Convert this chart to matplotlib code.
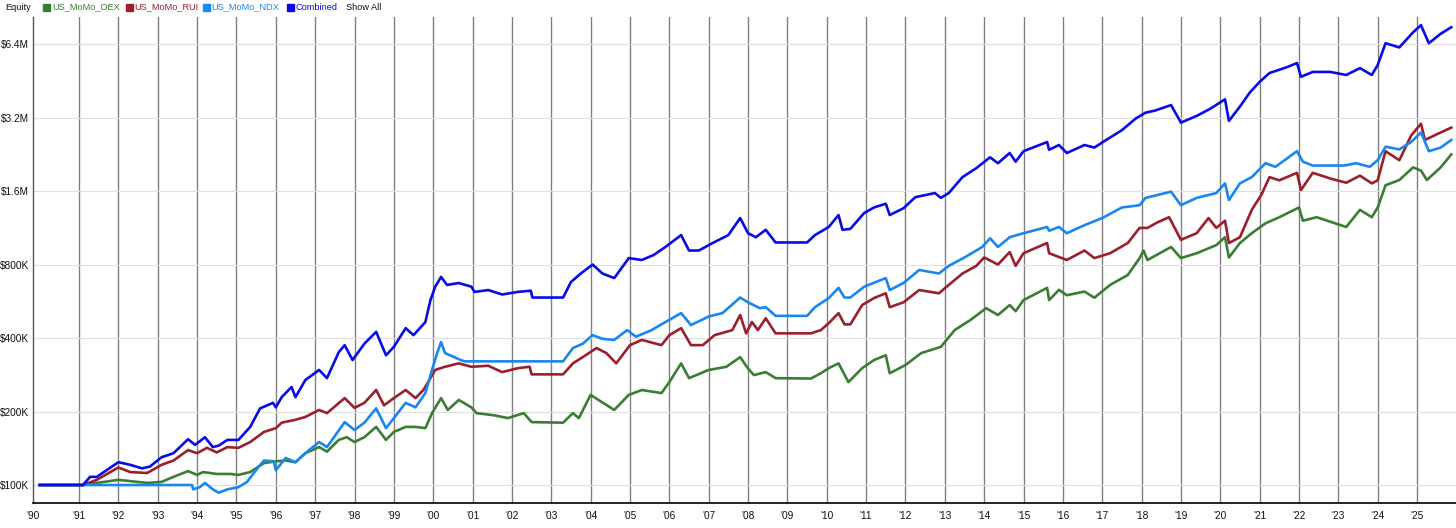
"""
Equity curves for the US momentum systems (OEX / RUI / NDX) and the combined book.
Log scale, values read off the reference chart.
"""

import matplotlib
matplotlib.use('Agg')
import matplotlib.pyplot as plt
from matplotlib.patches import Rectangle

plt.rcParams['font.family'] = ['Liberation Sans', 'DejaVu Sans']

# ---- data (equity in $K, x in fractional years) ----
comb_t = [1990.0, 1991.1, 1991.28, 1991.45, 1991.7, 1992.0, 1992.3, 1992.6, 1992.8, 1993.1,
          1993.4, 1993.77, 1993.95, 1994.2, 1994.4, 1994.55, 1994.77, 1995.05, 1995.35, 1995.6,
          1995.93, 1996.0, 1996.15, 1996.4, 1996.5, 1996.75, 1997.1, 1997.3, 1997.6, 1997.75,
          1997.95, 1998.25, 1998.55, 1998.8, 1999.0, 1999.3, 1999.5, 1999.8, 1999.93, 2000.05,
          2000.2, 2000.35, 2000.65, 2000.97, 2001.05, 2001.4, 2001.75, 2002.15, 2002.48, 2002.52,
          2003.3, 2003.5, 2003.75, 2004.05, 2004.3, 2004.6, 2004.97, 2005.3, 2005.6, 2005.9,
          2006.3, 2006.5, 2006.75, 2007.1, 2007.5, 2007.8, 2008.0, 2008.2, 2008.45, 2008.7,
          2009.5, 2009.7, 2010.05, 2010.3, 2010.4, 2010.6, 2010.95, 2011.2, 2011.5, 2011.6,
          2011.95, 2012.25, 2012.75, 2012.9, 2013.1, 2013.45, 2013.8, 2014.15, 2014.35, 2014.65,
          2014.8, 2015.0, 2015.6, 2015.65, 2015.9, 2016.1, 2016.55, 2016.8, 2017.1, 2017.5,
          2017.85, 2018.1, 2018.35, 2018.75, 2019.0, 2019.4, 2019.75, 2020.12, 2020.22, 2020.5,
          2020.75, 2021.0, 2021.25, 2021.7, 2021.95, 2022.05, 2022.35, 2022.8, 2023.2, 2023.55,
          2023.85, 2024.0, 2024.2, 2024.55, 2024.9, 2025.1, 2025.3, 2025.6, 2025.87]
comb_v = [100, 100, 108, 108, 115, 124, 121, 117, 119, 130,
          135, 154, 146, 157, 143, 145, 153, 153, 173, 206,
          217, 208, 229, 252, 229, 269, 296, 274, 350, 374,
          325, 379, 424, 340, 368, 439, 411, 465, 572, 649,
          712, 660, 672, 649, 618, 629, 603, 618, 625, 586,
          586, 678, 735, 800, 735, 704, 850, 835, 875, 944,
          1056, 913, 913, 980, 1056, 1240, 1075, 1035, 1110, 985,
          985, 1056, 1140, 1276, 1110, 1120, 1300, 1370, 1420, 1276,
          1360, 1510, 1570, 1500, 1570, 1825, 1985, 2200, 2080, 2290,
          2110, 2330, 2540, 2360, 2470, 2290, 2470, 2410, 2590, 2840,
          3170, 3350, 3420, 3600, 3050, 3250, 3480, 3800, 3100, 3550,
          4050, 4480, 4870, 5150, 5350, 4700, 4920, 4920, 4780, 5100,
          4780, 5250, 6450, 6200, 7150, 7650, 6450, 7050, 7500]

rui_t = [1990.0, 1991.1, 1991.45, 1992.0, 1992.3, 1992.73, 1993.1, 1993.4, 1993.77, 1994.0,
         1994.25, 1994.5, 1994.77, 1995.05, 1995.35, 1995.7, 1996.0, 1996.15, 1996.5, 1996.75,
         1997.1, 1997.3, 1997.75, 1998.0, 1998.25, 1998.55, 1998.75, 1999.0, 1999.3, 1999.55,
         1999.75, 1999.9, 2000.05, 2000.3, 2000.65, 2000.97, 2001.4, 2001.75, 2002.15, 2002.45,
         2002.5, 2003.3, 2003.55, 2003.8, 2004.15, 2004.4, 2004.65, 2005.0, 2005.3, 2005.8,
         2006.0, 2006.3, 2006.55, 2006.85, 2007.15, 2007.6, 2007.8, 2007.95, 2008.1, 2008.25,
         2008.45, 2008.7, 2009.6, 2009.85, 2010.05, 2010.3, 2010.45, 2010.6, 2010.9, 2011.2,
         2011.5, 2011.6, 2011.95, 2012.35, 2012.85, 2013.1, 2013.45, 2013.8, 2014.0, 2014.35,
         2014.65, 2014.8, 2015.0, 2015.6, 2015.65, 2016.1, 2016.55, 2016.8, 2017.2, 2017.65,
         2017.95, 2018.15, 2018.4, 2018.7, 2019.0, 2019.4, 2019.7, 2019.9, 2020.12, 2020.22,
         2020.5, 2020.8, 2021.05, 2021.25, 2021.5, 2021.95, 2022.05, 2022.35, 2022.8, 2023.2,
         2023.55, 2023.85, 2024.0, 2024.2, 2024.55, 2024.85, 2025.1, 2025.2, 2025.6, 2025.87]
rui_v = [100, 100, 105, 118, 113, 112, 121, 126, 139, 135,
         142, 136, 143, 142, 150, 165, 171, 180, 185, 190,
         203, 197, 227, 207, 217, 245, 212, 227, 245, 227,
         245, 269, 296, 305, 315, 305, 308, 290, 301, 305,
         284, 284, 315, 334, 364, 347, 315, 374, 393, 374,
         411, 439, 374, 374, 411, 431, 497, 418, 465, 431,
         482, 418, 418, 431, 460, 506, 455, 455, 546, 583,
         610, 535, 560, 629, 610, 660, 735, 790, 855, 800,
         900, 790, 890, 980, 890, 835, 913, 850, 890, 980,
         1130, 1130, 1190, 1250, 1010, 1075, 1240, 1130, 1210, 980,
         1035, 1340, 1550, 1825, 1770, 1900, 1615, 1900, 1800, 1730,
         1850, 1720, 1770, 2330, 2140, 2700, 3020, 2590, 2780, 2910]

ndx_t = [1990.0, 1993.87, 1993.9, 1994.07, 1994.2, 1994.4, 1994.55, 1994.77, 1995.05, 1995.27,
         1995.55, 1995.7, 1995.95, 1996.0, 1996.25, 1996.5, 1996.75, 1997.1, 1997.3, 1997.75,
         1998.0, 1998.25, 1998.55, 1998.8, 1999.0, 1999.3, 1999.55, 1999.8, 1999.97, 2000.1,
         2000.2, 2000.3, 2000.7, 2000.8, 2003.3, 2003.55, 2003.8, 2004.05, 2004.3, 2004.6,
         2004.93, 2005.15, 2005.55, 2005.9, 2006.3, 2006.55, 2007.0, 2007.35, 2007.8, 2008.0,
         2008.3, 2008.45, 2008.7, 2009.5, 2009.7, 2010.05, 2010.3, 2010.45, 2010.6, 2010.95,
         2011.5, 2011.6, 2011.95, 2012.35, 2012.85, 2013.1, 2013.5, 2013.95, 2014.15, 2014.35,
         2014.65, 2015.0, 2015.6, 2015.65, 2015.9, 2016.1, 2016.55, 2017.0, 2017.5, 2017.95,
         2018.1, 2018.75, 2019.0, 2019.4, 2019.9, 2020.12, 2020.22, 2020.5, 2020.8, 2021.15,
         2021.4, 2021.95, 2022.1, 2022.35, 2023.15, 2023.45, 2023.8, 2024.0, 2024.2, 2024.55,
         2024.85, 2025.1, 2025.3, 2025.6, 2025.87]
ndx_v = [100, 100, 96, 98, 102, 96, 93, 96, 98, 103,
         118, 126, 125, 115, 129, 124, 135, 150, 143, 181,
         168, 180, 206, 171, 188, 217, 208, 238, 296, 347,
         385, 347, 325, 321, 321, 364, 379, 411, 397, 393,
         431, 405, 431, 465, 506, 452, 490, 506, 586, 560,
         530, 535, 493, 493, 535, 583, 642, 586, 586, 649,
         704, 629, 672, 760, 735, 790, 855, 944, 1025, 944,
         1035, 1075, 1140, 1100, 1140, 1075, 1160, 1240, 1370, 1400,
         1500, 1590, 1400, 1500, 1570, 1720, 1470, 1720, 1825, 2080,
         2010, 2330, 2110, 2035, 2035, 2080, 2010, 2140, 2430, 2370,
         2540, 2780, 2330, 2410, 2590]

oex_t = [1990.0, 1991.1, 1991.45, 1992.0, 1992.73, 1993.1, 1993.4, 1993.77, 1994.0, 1994.15,
         1994.5, 1994.85, 1995.05, 1995.35, 1995.7, 1996.0, 1996.25, 1996.5, 1996.75, 1997.1,
         1997.3, 1997.6, 1997.8, 1998.0, 1998.25, 1998.55, 1998.8, 1999.0, 1999.3, 1999.55,
         1999.8, 1999.97, 2000.2, 2000.37, 2000.65, 2000.97, 2001.1, 2001.55, 2001.9, 2002.3,
         2002.5, 2003.3, 2003.55, 2003.7, 2004.0, 2004.2, 2004.6, 2004.97, 2005.3, 2005.8,
         2006.0, 2006.3, 2006.5, 2007.0, 2007.45, 2007.8, 2008.0, 2008.15, 2008.45, 2008.7,
         2009.6, 2009.85, 2010.05, 2010.3, 2010.55, 2010.9, 2011.2, 2011.5, 2011.6, 2012.0,
         2012.4, 2012.9, 2013.25, 2013.65, 2014.05, 2014.35, 2014.65, 2014.8, 2015.0, 2015.6,
         2015.65, 2015.9, 2016.1, 2016.55, 2016.8, 2017.2, 2017.65, 2017.95, 2018.05, 2018.15,
         2018.75, 2019.0, 2019.4, 2019.9, 2020.12, 2020.22, 2020.5, 2020.8, 2021.15, 2021.5,
         2022.0, 2022.1, 2022.45, 2022.85, 2023.2, 2023.55, 2023.85, 2024.0, 2024.2, 2024.55,
         2024.9, 2025.1, 2025.25, 2025.6, 2025.87]
oex_v = [100, 100, 102, 105, 102, 103, 108, 114, 110, 113,
         111, 111, 110, 113, 123, 125, 126, 124, 135, 143,
         137, 153, 157, 150, 157, 173, 153, 165, 173, 173,
         171, 197, 227, 203, 223, 208, 197, 193, 188, 197,
         181, 180, 197, 188, 234, 223, 203, 234, 245, 238,
         264, 315, 274, 296, 305, 334, 300, 282, 290, 274,
         273, 287, 301, 315, 264, 301, 325, 340, 287, 310,
         347, 368, 431, 474, 530, 497, 546, 515, 572, 642,
         572, 630, 599, 620, 585, 660, 725, 850, 913, 835,
         944, 850, 890, 961, 1035, 855, 980, 1075, 1180, 1250,
         1370, 1210, 1250, 1190, 1140, 1340, 1250, 1370, 1690, 1775,
         2000, 1940, 1775, 2000, 2260]

series_names = ['US_MoMo_OEX', 'US_MoMo_RUI', 'US_MoMo_NDX', 'Combined']
series_colors = ['#3b7d35', '#9c1f2e', '#1a86f2', '#0a0ae8']

year_ticks = [1989.83] + list(range(1991, 2026))
year_labels = ["'90"] + ["'%02d" % (y % 100) for y in range(1991, 2026)]
y_ticks = [100, 200, 400, 800, 1600, 3200, 6400]
y_labels = ['$100K', '$200K', '$400K', '$800K', '$1.6M', '$3.2M', '$6.4M']

# ---- figure ----
W, H = 1456, 528
fig = plt.figure(figsize=(W / 100, H / 100), dpi=100)
ax = fig.add_axes([33 / W, 25 / H, 1 - 33 / W, (503 - 17) / H])

series = [(oex_t, oex_v), (rui_t, rui_v), (ndx_t, ndx_v), (comb_t, comb_v)]
for (t, v), name, c in zip(series, series_names, series_colors):
    ax.plot(t, v, color=c, lw=1.9, label=name, solid_joinstyle='round')

ax.set_yscale('log')
ax.set_ylim(84.4, 8260)
ax.set_xlim(1989.83, 2025.99)
ax.set_yticks(y_ticks)
ax.set_yticklabels(y_labels)
ax.yaxis.set_minor_locator(matplotlib.ticker.NullLocator())
ax.set_xticks(year_ticks)
ax.set_xticklabels(year_labels)

# dark vertical year lines, light horizontal ones
for x in year_ticks[1:]:
    ax.axvline(x, color='#808080', lw=1.0, zorder=0)
for y in y_ticks:
    ax.axhline(y, color='#dedede', lw=0.8, zorder=0)

ax.tick_params(axis='both', length=0, labelsize=7.3, colors='#111111')
ax.tick_params(axis='x', pad=6)
ax.tick_params(axis='y', pad=3)
for s in ['top', 'right']:
    ax.spines[s].set_visible(False)
ax.spines['bottom'].set_color('black')
ax.spines['bottom'].set_linewidth(1.2)
ax.spines['left'].set_color('#555555')
ax.spines['left'].set_linewidth(1.0)

# ---- legend strip across the top ----
ty = 1 - 7 / H
fs = 6.6
fig.text(5 / W, ty, 'Equity', fontsize=fs, color='#111111', va='center')
sq_x = [43, 126, 203, 287]
txt_x = [52, 134, 211, 295]
for sx, tx, name, c in zip(sq_x, txt_x, series_names, series_colors):
    fig.patches.append(Rectangle((sx / W, 1 - 11 / H), 7 / W, 7 / H,
                                 transform=fig.transFigure, color=c))
    fig.text(tx / W, ty, name, fontsize=fs, color=c, va='center')
fig.text(346 / W, ty, 'Show All', fontsize=fs, color='#111111', va='center')

fig.savefig('out.png', dpi=100)
